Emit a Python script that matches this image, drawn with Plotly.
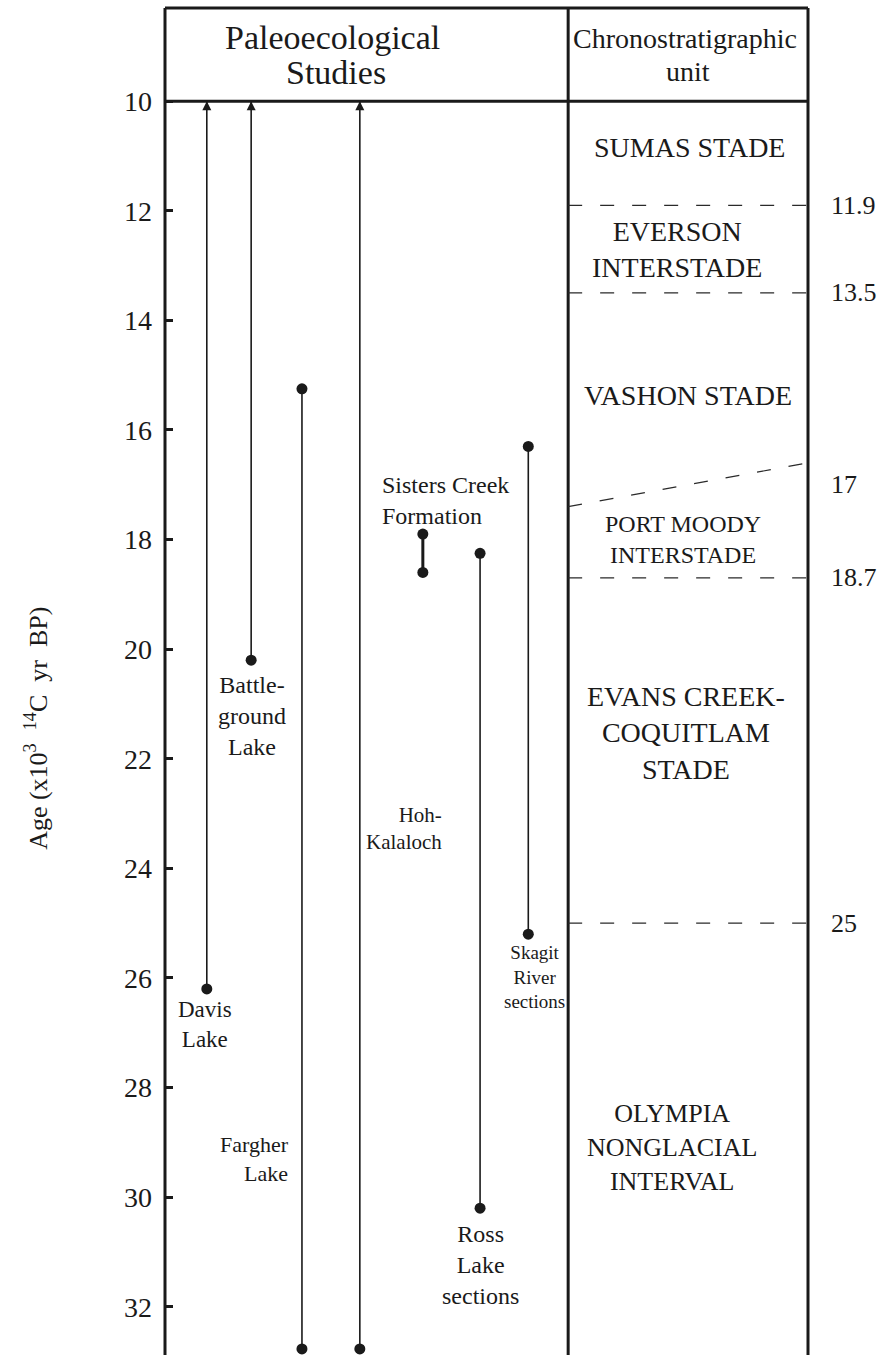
import plotly.graph_objects as go

# Paleoecological records: age span of each study (x10^3 14C yr BP)
studies = ["Davis Lake", "Battleground Lake", "Fargher Lake", "Hoh-Kalaloch",
           "Sisters Creek Formation", "Ross Lake sections", "Skagit River sections"]
record_young = [10.0, 10.0, 15.25, 10.0, 17.9, 18.25, 16.3]
record_old = [26.2, 20.2, 32.77, 32.77, 18.6, 30.2, 25.2]
continues_younger = [True, True, False, True, False, False, False]

# Chronostratigraphic boundaries and units
boundary_ages = [11.9, 13.5, 17.0, 18.7, 25.0]
boundary_labels = ["11.9", "13.5", "17", "18.7", "25"]
unit_names = ["SUMAS STADE", "EVERSON<br>INTERSTADE", "VASHON STADE",
              "PORT MOODY<br>INTERSTADE", "EVANS CREEK-<br>COQUITLAM<br>STADE",
              "OLYMPIA<br>NONGLACIAL<br>INTERVAL"]

tick_ages = [10, 12, 14, 16, 18, 20, 22, 24, 26, 28, 30, 32]
tick_text = [str(t) for t in tick_ages]

# ---- layout helpers (horizontal frame is 0..100) ----
FONT = "Liberation Serif"
INK = "#1a1a1a"
study_x = [6.5, 13.4, 21.3, 30.3, 40.1, 49.0, 56.5]
study_width = [1.6, 1.6, 1.6, 1.6, 3.0, 1.6, 1.6]
divider_x = 62.7
study_label_cfg = [
    # text, x, age, font size, xanchor, align
    ("Davis<br>Lake", 6.2, 26.84, 23, "center", "center"),
    ("Battle-<br>ground<br>Lake", 13.5, 21.22, 24, "center", "center"),
    ("Fargher<br>Lake", 19.6, 29.31, 22, "right", "right"),
    ("Hoh-<br>Kalaloch", 43.4, 23.27, 21, "right", "right"),
    ("Sisters Creek<br>Formation", 33.4, 17.28, 24, "left", "left"),
    ("Ross<br>Lake<br>sections", 49.0, 31.24, 24, "center", "center"),
    ("Skagit<br>River<br>sections", 57.5, 25.99, 19, "center", "center"),
]
unit_label_pos = [(81.6, 10.85, 28), (79.6, 12.7, 28), (81.3, 15.37, 28),
                  (80.6, 18.0, 24), (81.0, 21.53, 28), (78.8, 29.1, 26)]
slant = 0.4  # the 17 ka boundary is drawn tilted about its age

fig = go.Figure()

annotations = []
for i, name in enumerate(studies):
    x = study_x[i]
    fig.add_trace(go.Scatter(
        x=[x, x], y=[record_young[i], record_old[i]], mode="lines",
        line=dict(color=INK, width=study_width[i]), name=name,
        showlegend=False, hoverinfo="skip"))
    dot_y = [record_old[i]] if continues_younger[i] else [record_young[i], record_old[i]]
    fig.add_trace(go.Scatter(
        x=[x] * len(dot_y), y=dot_y, mode="markers",
        marker=dict(color=INK, size=11), showlegend=False, hoverinfo="skip",
        cliponaxis=False))
    if continues_younger[i]:
        # arrowhead: record continues into younger sediments
        fig.add_trace(go.Scatter(
            x=[x], y=[record_young[i]], mode="markers",
            marker=dict(symbol="arrow-up", color=INK, size=9),
            showlegend=False, hoverinfo="skip", cliponaxis=False))

for text, x, age, size, xanc, align in study_label_cfg:
    annotations.append(dict(
        x=x, y=age, xref="x", yref="y", text=text, showarrow=False,
        xanchor=xanc, align=align, yanchor="middle",
        font=dict(family=FONT, size=size, color=INK)))

for (x, age, size), name in zip(unit_label_pos, unit_names):
    annotations.append(dict(
        x=x, y=age, xref="x", yref="y", text=name, showarrow=False,
        xanchor="center", align="center",
        font=dict(family=FONT, size=size, color=INK)))

for age, lab in zip(boundary_ages, boundary_labels):
    annotations.append(dict(
        x=1.033, y=age, xref="paper", yref="y", text=lab, showarrow=False,
        xanchor="left", font=dict(family=FONT, size=26, color=INK)))

# header text
annotations += [
    dict(x=26.1, y=8.83, xref="x", yref="y", text="Paleoecological", showarrow=False,
         font=dict(family=FONT, size=34, color=INK)),
    dict(x=26.6, y=9.47, xref="x", yref="y", text="Studies", showarrow=False,
         font=dict(family=FONT, size=34, color=INK)),
    dict(x=80.9, y=8.86, xref="x", yref="y", text="Chronostratigraphic", showarrow=False,
         font=dict(family=FONT, size=28, color=INK)),
    dict(x=81.4, y=9.46, xref="x", yref="y", text="unit", showarrow=False,
         font=dict(family=FONT, size=28, color=INK)),
    dict(x=-0.228, y=0.4655, xref="paper", yref="paper",
         text="Age (x10<sup>3</sup>  <sup>14</sup>C  yr  BP)", textangle=-90,
         showarrow=False, font=dict(family=FONT, size=26, color=INK)),
]

shapes = []
frame = dict(color=INK, width=3)
shapes.append(dict(type="line", xref="paper", yref="paper", x0=0, x1=1, y0=1, y1=1, line=frame))
shapes.append(dict(type="line", xref="paper", yref="paper", x0=0, x1=0, y0=0, y1=1, line=frame))
shapes.append(dict(type="line", xref="paper", yref="paper", x0=1, x1=1, y0=0, y1=1, line=frame))
shapes.append(dict(type="line", xref="paper", yref="paper", x0=divider_x / 100, x1=divider_x / 100,
                   y0=0, y1=1, line=frame))
shapes.append(dict(type="line", xref="paper", yref="y", x0=0, x1=1, y0=tick_ages[0], y1=tick_ages[0],
                   line=frame))

dash = dict(color="#2a2a2a", width=1.2, dash="14px,18px")
for age in boundary_ages:
    if age == 17.0:
        y0, y1 = age + slant, age - slant
    else:
        y0, y1 = age, age
    shapes.append(dict(type="line", xref="x", yref="y", x0=divider_x, x1=100,
                       y0=y0, y1=y1, line=dash))

fig.update_layout(
    width=888, height=1355,
    margin=dict(l=165, r=80, t=8, b=0),
    paper_bgcolor="white", plot_bgcolor="white",
    showlegend=False,
    font=dict(family=FONT, color=INK),
    xaxis=dict(range=[0, 100], visible=False, fixedrange=True),
    yaxis=dict(range=[32.88, 8.30], tickvals=tick_ages, ticktext=tick_text,
               ticks="inside", ticklen=8, tickwidth=2.5, tickcolor=INK,
               showgrid=False, zeroline=False, showline=False,
               ticklabelstandoff=12,
               tickfont=dict(family=FONT, size=28, color=INK, weight="normal")),
    annotations=annotations,
    shapes=shapes,
)

fig.write_html("out.html")
